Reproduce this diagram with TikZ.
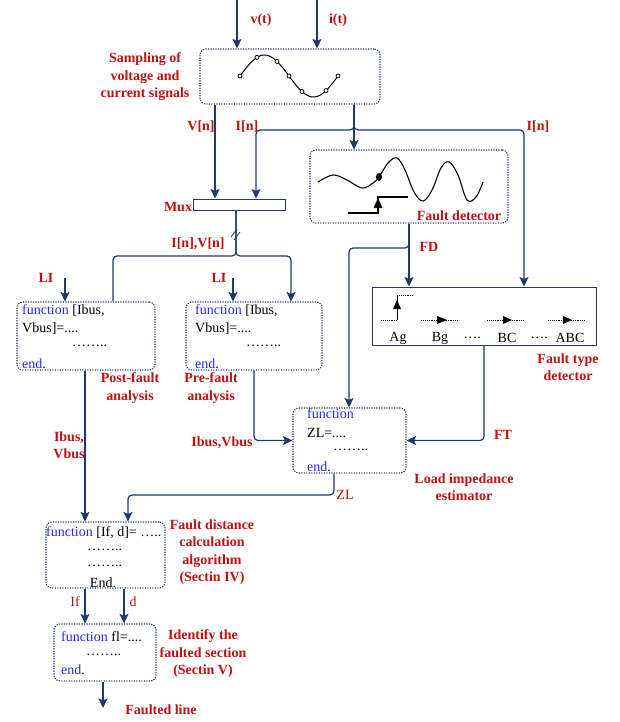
\documentclass[tikz,border=0pt]{standalone}
\usepackage{fontspec}
\setmainfont{Liberation Serif}
\usetikzlibrary{arrows.meta,calc}
\definecolor{navy}{RGB}{31,56,110}
\definecolor{lred}{RGB}{192,16,16}
\definecolor{fblue}{RGB}{40,40,255}
\begin{document}
\begin{tikzpicture}[x=1pt,y=-1pt,
 font=\fontsize{14}{17}\selectfont,
 lbl/.style={text=lred,font=\fontsize{14}{17.5}\selectfont\bfseries,align=center,inner sep=0},
 rl/.style={text=lred,inner sep=0},
 code/.style={anchor=west,inner sep=0,text=black},
 fbox/.style={draw=navy,dash pattern=on 1.2pt off 1.3pt,line width=1.1pt,rounded corners=6pt,inner sep=0},
 sbox/.style={draw=navy,line width=1pt,inner sep=0},
 conn/.style={draw=navy,line width=1.2pt,rounded corners=4pt},
 arr/.style={conn,-{Stealth[length=9.5pt,width=9pt,inset=2pt]}},
 sym/.style={line width=0.9pt},
]
\useasboundingbox (0,0) rectangle (620,722);
% boxes
\node[fbox,minimum width=180pt,minimum height=55pt] (samp) at (290,76.5) {};
\node[sbox,minimum width=92pt,minimum height=11pt] (mux) at (239,204.5) {};
\node[fbox,minimum width=198pt,minimum height=73pt] (fd) at (409,186.5) {};
\node[fbox,minimum width=138pt,minimum height=68pt] (post) at (86,336) {};
\node[fbox,minimum width=136pt,minimum height=68pt] (pre) at (254,336) {};
\node[sbox,minimum width=224pt,minimum height=58pt] (ftd) at (484,316) {};
\node[fbox,minimum width=113pt,minimum height=65pt] (lie) at (349.5,440.5) {};
\node[fbox,minimum width=119pt,minimum height=66pt] (fdc) at (105.5,555) {};
\node[fbox,minimum width=102pt,minimum height=57pt] (ids) at (105,652.5) {};
% helper coordinates
\coordinate (xVt) at (237,0);
\coordinate (xIt) at (317,0);
\coordinate (xV) at (215,0);
\coordinate (xI) at (256,0);
\coordinate (xS) at (354,0);
\coordinate (xIr) at (524,0);
\coordinate (yIn) at (0,130);
\coordinate (xM) at (236,0);
\coordinate (ySp) at (0,256);
\coordinate (xPost) at (113,0);
\coordinate (xPre) at (291,0);
\coordinate (xLa) at (65,0);
\coordinate (xLb) at (233,0);
\coordinate (yLI) at (0,278);
\coordinate (xFD) at (409,0);
\coordinate (xFDl) at (349,0);
\coordinate (yFD) at (0,248);
\coordinate (xFT) at (484,0);
\coordinate (xPreO) at (254,0);
\coordinate (xPostO) at (85,0);
\coordinate (xLieO) at (334,0);
\coordinate (xZL) at (128,0);
\coordinate (yZL) at (0,495);
\coordinate (xIf) at (85,0);
\coordinate (xd) at (124,0);
\coordinate (xOut) at (103,0);
\coordinate (outEnd) at (103,708);
% input arrows
\draw[arr] (xVt) -- (xVt |- samp.north);
\draw[arr] (xIt) -- (xIt |- samp.north);
% sampling outputs
\draw[arr] (xV |- samp.south) -- (xV |- mux.north);
\draw[arr] (xS |- samp.south) |- (xI |- yIn) -- (xI |- mux.north);
\draw[arr] (xS |- samp.south) |- (xIr |- yIn) -- (xIr |- ftd.north);
\draw[arr,rounded corners=0pt] (xS |- samp.south) -- (xS |- fd.north);
% mux outputs
\draw[conn] (xM |- mux.south) |- (xPost |- ySp) -- (xPost |- post.north);
\draw[arr] (xM |- mux.south) |- (xPre |- ySp) -- (xPre |- pre.north);
\draw[navy,line width=0.8pt] (231,237) -- (237,229) (234,240) -- (240,232);
% LI arrows
\draw[arr] (xLa |- yLI) -- (xLa |- post.north);
\draw[arr] (xLb |- yLI) -- (xLb |- pre.north);
% fault detector outputs
\draw[arr,rounded corners=0pt] (xFD |- fd.south) -- (xFD |- ftd.north);
\draw[arr] (xFD |- fd.south) |- (xFDl |- yFD) -- (xFDl |- lie.north);
% to load impedance
\draw[arr] (xFT |- ftd.south) |- (lie.east);
\draw[arr] (xPreO |- pre.south) |- (lie.west);
% to fault distance
\draw[arr] (xPostO |- post.south) -- (xPostO |- fdc.north);
\draw[arr] (xLieO |- lie.south) |- (xZL |- yZL) -- (xZL |- fdc.north);
% to identify
\draw[arr] (xIf |- fdc.south) -- (xIf |- ids.north);
\draw[arr] (xd |- fdc.south) -- (xd |- ids.north);
\draw[arr] (xOut |- ids.south) -- (outEnd);
% sampling wave
\draw[line width=1pt] plot[domain=240:338,samples=60,smooth] (\x,{76-21*sin(3.6735*(\x-240))});
\foreach \px in {240,257,277,289,302,326,338}
  \draw[line width=0.8pt,fill=white] (\px,{76-21*sin(3.6735*(\px-240))}) circle (2pt);
% fault detector wave
\draw[line width=1.1pt] plot[smooth,tension=0.6] coordinates {(318,182) (333,175) (347,180) (362,188) (373,183) (379,177) (388,163) (397,158) (405,170) (414,192) (423,201) (432,190) (441,168) (449,162) (458,175) (467,200) (476,197) (483,182)};
\fill (379,177) ellipse (3pt and 4pt);
\draw[line width=1.1pt] (348,213) -| (378,197) -- (408,197);
\fill (373.5,208) -- (382.5,208) -- (378,198) -- cycle;
% fault type symbols
\draw[sym,densely dotted] (381,320) -- (397,320);
\draw[sym] (397,320) -- (397,295);
\fill (393,309) -- (401,309) -- (397,300) -- cycle;
\draw[sym,densely dotted] (397,295) -- (413,295);
\draw[sym,densely dotted] (421,320) -- (459,320);
\fill (437,316) -- (447,320) -- (437,324) -- cycle;
\draw[sym,densely dotted] (487,320) -- (525,320);
\fill (503,316) -- (512,320) -- (503,324) -- cycle;
\draw[sym,densely dotted] (548,320) -- (586,320);
\fill (563,316) -- (572,320) -- (563,324) -- cycle;
\node[inner sep=0] (tAg) at (398,338) {Ag};
\node[inner sep=0] (tBg) at (440,338) {Bg};
\node[inner sep=0] (tD1) at (472,338) {….};
\node[inner sep=0] (tBC) at (507,338) {BC};
\node[inner sep=0] (tD2) at (539,338) {….};
\node[inner sep=0] (tABC) at (570,338) {ABC};
% code texts
\node[code] (c1) at (22,311) {{\color{fblue}function} [Ibus,};
\node[code] (c2) at (22,329) {Vbus]=....};
\node[code] (c3) at (72,346) {……..};
\node[code] (c4) at (22,364) {{\color{fblue}end}.};
\node[code] (c5) at (195,311) {{\color{fblue}function} [Ibus,};
\node[code] (c6) at (195,329) {Vbus]=....};
\node[code] (c7) at (246,346) {……..};
\node[code] (c8) at (195,364) {{\color{fblue}end}.};
\node[code] (c9) at (307,414) {{\color{fblue}function}};
\node[code] (c10) at (307,433) {ZL=....};
\node[code] (c11) at (333,450) {……..};
\node[code] (c12) at (307,467) {{\color{fblue}end}.};
\node[code] (c13) at (46,533) {{\color{fblue}function} [If, d]= …..};
\node[code] (c14) at (87,550) {……..};
\node[code] (c15) at (87,566) {……..};
\node[inner sep=0] (c16) at (103,583) {End.};
\node[code] (c17) at (61,637) {{\color{fblue}function} fl=....};
\node[code] (c18) at (86,655) {……..};
\node[code] (c19) at (61,670) {{\color{fblue}end}.};
% labels
\node[lbl] (lvt) at (261,20) {v(t)};
\node[lbl] (lit) at (338,20) {i(t)};
\node[lbl] (lsamp) at (145,77) {Sampling of\\voltage and\\current signals};
\node[lbl] (lVn) at (201,127) {V[n]};
\node[lbl] (lIn) at (247,127) {I[n]};
\node[lbl] (lIn2) at (538,127) {I[n]};
\node[lbl] (lmux) at (178,207) {Mux};
\node[lbl] (lIV) at (198,244) {I[n],V[n]};
\node[lbl] (lFD) at (429,247) {FD};
\node[lbl] (lfd) at (459,216) {Fault detector};
\node[lbl] (lLI1) at (46,278) {LI};
\node[lbl] (lLI2) at (219,278) {LI};
\node[lbl] (lpost) at (130,388) {Post-fault\\analysis};
\node[lbl] (lpre) at (211,388) {Pre-fault\\analysis};
\node[lbl] (lftd) at (568,367) {Fault type\\detector};
\node[lbl] (lFT) at (503,435) {FT};
\node[lbl] (lIV2) at (222,443) {Ibus,Vbus};
\node[lbl] (llie) at (464,487) {Load impedance\\estimator};
\node[rl] (lZL) at (345,495) {ZL};
\node[lbl] (lIV3) at (69,445) {Ibus,\\Vbus};
\node[lbl] (lfdc) at (212,552) {Fault distance\\calculation\\algorithm\\(Sectin IV)};
\node[rl] (lIf) at (75,602) {If};
\node[rl] (ld) at (133,602) {d};
\node[lbl] (lids) at (203,654) {Identify the\\faulted section\\(Sectin V)};
\node[lbl] (lout) at (161,710) {Faulted line};
\end{tikzpicture}
\end{document}
